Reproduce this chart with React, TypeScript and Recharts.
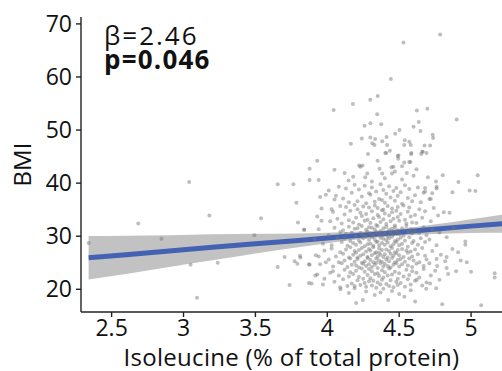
import React from 'react'
import { ComposedChart, Scatter, Line, Area, XAxis, YAxis } from 'recharts'

// regression fit (x = isoleucine %, fit = BMI) and 95% band
const fitX = [2.34, 2.6, 2.9, 3.2, 3.5, 3.8, 4.1, 4.4, 4.7, 5.0, 5.215]
const fitY = [25.95, 26.5, 27.2, 27.9, 28.6, 29.2, 29.9, 30.5, 31.2, 31.9, 32.35]
const bandLo = [21.85, 22.9, 24.2, 25.45, 26.75, 27.9, 29.05, 29.9, 30.35, 30.6, 30.65]
const bandHi = [30.05, 30.1, 30.2, 30.35, 30.45, 30.5, 30.75, 31.1, 32.05, 33.2, 34.05]

const xTicks = [2.5, 3, 3.5, 4, 4.5, 5]
const yTicks = [20, 30, 40, 50, 60, 70]

// main cluster, grouped by BMI band
const cluster20: [number, number][] = [
  [3.93,22.8],[3.97,20.9],[4.02,23.1],[4.05,21.4],[4.08,22.6],[4.09,20.4],
  [4.11,21.9],[4.12,23.7],[4.14,20.6],[4.15,22.4],[4.16,23.2],[4.17,21.1],[4.18,22.9],[4.19,20.2],
  [4.20,23.5],[4.21,21.7],[4.22,22.3],[4.23,20.8],[4.24,23.9],[4.25,22.0],[4.26,21.2],[4.26,23.3],[4.27,20.5],[4.28,22.7],[4.29,21.5],[4.29,23.8],
  [4.30,22.1],[4.31,20.7],[4.31,23.4],[4.32,21.6],[4.33,22.9],[4.34,20.3],[4.35,23.0],[4.35,21.3],[4.36,22.5],[4.37,20.9],[4.38,23.6],[4.38,21.8],[4.39,22.2],[4.39,20.1],
  [4.40,23.2],[4.41,21.0],[4.42,22.6],[4.43,20.6],[4.43,23.9],[4.44,21.7],[4.45,22.8],[4.46,20.4],[4.47,23.3],[4.48,21.4],[4.49,22.0],[4.49,20.8],
  [4.50,23.0],[4.51,21.2],[4.53,22.4],[4.54,20.5],[4.55,23.7],[4.56,21.9],[4.57,22.7],[4.58,20.9],[4.59,23.4],
  [4.61,21.6],[4.62,23.1],[4.64,22.2],[4.66,20.7],[4.67,23.8],[4.69,21.3],
  [4.72,22.6],[4.75,23.5],[4.78,21.8],[4.84,22.9],
]
const cluster24: [number, number][] = [
  [3.92,26.4],[3.95,24.7],[3.98,27.3],
  [4.01,25.6],[4.03,27.7],[4.04,24.3],[4.06,26.2],[4.08,25.1],[4.09,27.0],
  [4.10,24.9],[4.11,26.7],[4.12,25.4],[4.13,27.5],[4.14,24.2],[4.15,26.0],[4.16,25.8],[4.16,27.9],[4.17,24.6],[4.18,26.5],[4.19,25.2],[4.19,27.2],
  [4.20,24.5],[4.20,26.9],[4.21,25.7],[4.22,27.4],[4.22,24.1],[4.23,26.3],[4.24,25.0],[4.24,27.8],[4.25,24.8],[4.25,26.6],[4.26,25.3],[4.27,27.1],[4.27,24.4],[4.28,26.1],[4.28,25.9],[4.29,27.6],[4.29,24.7],[4.21,26.0],
  [4.30,25.5],[4.30,27.3],[4.31,24.2],[4.31,26.4],[4.32,25.1],[4.32,27.9],[4.33,24.6],[4.33,26.8],[4.34,25.8],[4.34,27.0],[4.35,24.0],[4.35,26.2],[4.36,25.4],[4.36,27.7],[4.37,24.9],[4.37,26.5],[4.38,25.2],[4.38,27.4],[4.39,24.3],[4.39,26.1],[4.34,25.0],[4.36,26.9],
  [4.40,24.8],[4.40,26.6],[4.41,25.6],[4.41,27.5],[4.42,24.4],[4.42,26.0],[4.43,25.3],[4.43,27.2],[4.44,24.1],[4.44,26.7],[4.45,25.9],[4.45,27.8],[4.46,24.6],[4.46,26.3],[4.47,25.1],[4.47,27.0],[4.48,24.9],[4.48,26.8],[4.49,25.5],[4.49,27.4],
  [4.50,24.3],[4.50,26.4],[4.51,25.7],[4.52,27.6],[4.52,24.7],[4.53,26.1],[4.54,25.2],[4.55,27.3],[4.56,24.5],[4.56,26.9],[4.57,25.8],[4.58,27.1],[4.59,24.2],[4.59,26.2],
  [4.60,25.4],[4.61,27.5],[4.62,24.8],[4.63,26.6],[4.64,25.1],[4.66,27.8],[4.67,24.4],[4.68,26.3],[4.69,25.6],
  [4.71,24.9],[4.73,27.2],[4.76,25.7],[4.79,26.5],[4.82,25.3],[4.87,27.6],
]
const cluster28: [number, number][] = [
  [3.91,29.4],[3.94,31.3],[3.97,28.6],
  [4.01,30.2],[4.03,28.3],[4.05,31.6],[4.07,29.7],[4.09,30.8],
  [4.10,28.9],[4.11,31.1],[4.12,29.5],[4.13,30.4],[4.14,28.2],[4.15,31.8],[4.16,29.1],[4.17,30.7],[4.18,28.7],[4.19,31.4],
  [4.20,30.0],[4.20,28.4],[4.21,31.5],[4.22,29.2],[4.23,30.6],[4.23,28.8],[4.24,31.9],[4.25,29.6],[4.25,30.3],[4.26,28.1],[4.27,31.2],[4.27,29.9],[4.28,30.9],[4.28,28.5],[4.29,31.7],[4.29,29.3],
  [4.30,28.6],[4.30,30.5],[4.31,29.8],[4.31,31.6],[4.32,28.2],[4.32,30.1],[4.33,29.4],[4.33,31.3],[4.34,28.9],[4.34,30.8],[4.35,29.0],[4.35,31.9],[4.36,28.3],[4.36,30.4],[4.37,29.7],[4.37,31.0],[4.38,28.7],[4.38,30.2],[4.39,29.5],[4.39,31.5],
  [4.40,28.4],[4.40,30.6],[4.41,29.3],[4.41,31.8],[4.42,28.8],[4.42,30.0],[4.43,29.6],[4.43,31.2],[4.44,28.1],[4.44,30.7],[4.45,29.9],[4.45,31.4],[4.46,28.5],[4.46,30.3],[4.47,29.1],[4.47,31.7],[4.48,28.9],[4.48,30.9],[4.49,29.4],[4.49,31.1],
  [4.50,28.3],[4.50,30.4],[4.51,29.7],[4.52,31.5],[4.52,28.6],[4.53,30.1],[4.54,29.2],[4.55,31.9],[4.56,28.0],[4.56,30.8],[4.57,29.8],[4.58,31.3],[4.59,28.7],[4.59,30.5],
  [4.60,29.1],[4.61,31.0],[4.63,28.4],[4.64,30.6],[4.65,29.6],[4.67,31.7],[4.68,28.9],[4.69,30.2],
  [4.71,29.4],[4.73,31.2],[4.76,28.3],[4.78,30.7],[4.83,29.8],[4.88,31.5],
]
const cluster32: [number, number][] = [
  [3.93,33.7],[3.96,35.2],[4.02,32.8],[4.04,34.6],[4.07,33.3],[4.09,35.7],
  [4.10,32.4],[4.12,34.1],[4.13,35.5],[4.15,33.0],[4.16,34.8],[4.18,32.6],[4.19,35.9],
  [4.20,33.5],[4.21,35.1],[4.22,32.2],[4.23,34.4],[4.24,33.8],[4.25,35.6],[4.26,32.9],[4.27,34.2],[4.28,33.1],[4.29,35.4],
  [4.30,32.5],[4.31,34.7],[4.32,33.4],[4.33,35.8],[4.34,32.1],[4.35,34.0],[4.35,35.3],[4.36,33.6],[4.37,32.7],[4.38,34.9],[4.39,33.2],[4.39,35.0],
  [4.40,34.3],[4.41,32.3],[4.42,35.7],[4.43,33.9],[4.44,32.8],[4.45,34.5],[4.45,35.2],[4.46,33.3],[4.47,32.0],[4.48,34.8],[4.49,33.6],[4.49,35.5],
  [4.50,32.9],[4.51,34.2],[4.53,35.8],[4.54,33.1],[4.55,32.4],[4.56,34.6],[4.57,35.4],[4.58,33.7],[4.59,32.6],
  [4.61,34.0],[4.62,32.5],[4.64,35.1],[4.66,33.5],[4.68,34.7],
  [4.72,32.8],[4.74,35.3],[4.77,33.9],[4.85,34.4],
]
const cluster36: [number, number][] = [
  [3.95,37.4],[4.01,38.6],[4.05,36.9],[4.08,39.3],
  [4.11,37.1],[4.13,39.0],[4.15,36.4],[4.17,38.2],[4.19,39.7],
  [4.21,36.6],[4.22,38.8],[4.24,37.5],[4.26,39.5],[4.27,36.2],[4.29,38.1],
  [4.30,37.8],[4.31,39.2],[4.33,36.5],[4.34,38.4],[4.36,37.0],[4.37,39.8],[4.38,36.8],[4.39,38.7],
  [4.40,36.3],[4.41,38.0],[4.43,39.4],[4.44,37.3],[4.46,38.5],[4.47,36.7],[4.48,39.1],[4.49,37.6],
  [4.51,38.3],[4.52,36.1],[4.54,39.6],[4.56,37.2],[4.57,38.9],[4.59,36.6],
  [4.61,37.7],[4.63,39.2],[4.65,36.4],[4.68,38.4],[4.72,37.0],[4.76,39.0],
]
// upper tail
const upperPoints: [number, number][] = [
  [4.785,68.0],[4.53,66.5],[4.442,59.6],[4.044,53.8],[4.178,54.9],[4.299,55.7],[4.351,56.4],[4.347,53.0],
  [4.623,53.7],[4.696,54.0],[4.9,52.0],[4.259,50.8],[4.3,51.3],[4.375,51.1],[4.472,49.3],[4.502,50.0],
  [4.6,50.6],[4.636,51.5],[4.648,49.8],[4.733,49.1],[4.736,48.5],[4.164,47.4],[4.24,48.4],[4.299,48.6],
  [4.333,48.3],[4.313,47.5],[4.328,47.2],[4.382,47.9],[4.412,48.7],[4.416,47.2],[4.403,45.7],[4.435,46.1],
  [4.539,48.1],[4.571,47.8],[4.58,47.2],[4.535,47.2],[4.676,47.1],[4.715,47.1],[4.283,45.5],[4.495,45.2],
  [4.493,44.6],[4.585,45.7],[4.653,45.5],[4.664,45.9],[4.69,45.7],[3.93,44.2],[3.877,42.7],[4.05,42.5],
  [3.94,40.6],[3.877,40.6],[4.446,43.0],[4.535,43.9],[4.578,44.0],[4.52,43.2],[4.45,41.8],[4.553,41.9],
  [4.7,41.1],[4.803,41.5],[5.046,41.5],[4.912,40.2],[4.222,43.3],[4.245,43.3],[4.278,41.8],[4.363,42.7],
  [4.382,41.8],[4.148,40.5],[4.264,41.1],[4.18,41.2],[4.41,45.7],[4.583,45.5],[4.23,43.1],[4.46,43.1],
  [4.57,44.0],[4.756,40.3],[4.76,39.3],[4.68,39.1],[4.67,38.2],[4.73,38.1],[4.71,37.0],[4.87,38.3],
  [4.99,38.6],[5.03,38.5],[4.81,34.5],[4.03,35.1],[3.96,32.9],[3.84,31.2],[4.06,37.6],[3.99,37.8],
  [4.49,45.1],[4.66,45.9],[4.35,44.2],[4.62,42.6],[4.40,40.9],[4.31,40.3],[4.52,40.7],[4.60,41.4],
  [4.12,41.9],[4.47,42.2],
]
// scattered low / left / right points
const outerPoints: [number, number][] = [
  [2.34,28.7],[2.685,32.4],[2.847,29.5],[3.049,24.6],[3.18,33.9],[3.238,25.0],[3.094,18.4],[3.039,40.2],
  [3.539,33.4],[3.493,30.2],[3.655,39.8],[3.764,39.8],[3.785,36.3],[3.796,32.6],[3.838,31.2],[3.703,26.1],
  [3.655,24.2],[3.738,20.8],[3.773,25.3],[3.792,24.8],[3.813,26.0],[3.872,24.7],[3.872,21.2],[4.201,17.4],
  [4.247,18.0],[4.424,18.0],[4.611,17.7],[4.799,17.2],[5.07,17.0],[5.164,23.0],[5.164,22.2],[3.891,21.1],
  [3.877,24.6],[3.917,22.6],[4.092,20.0],[4.19,20.6],[4.33,18.9],[4.50,19.1],[4.536,18.6],[4.757,20.2],
  [4.688,20.1],[4.896,23.4],[4.97,25.1],[4.928,25.4],[4.96,29.0],[4.96,28.4],[4.91,27.0],[4.83,26.1],
  [4.83,24.0],[4.764,24.4],[4.715,21.1],[4.622,21.8],[3.98,22.0],[4.04,23.4],[3.99,25.1],[3.94,26.2],
  [3.81,26.3],[4.37,19.4],[4.27,19.6],[4.58,19.8],[4.15,19.3],[4.45,19.7],[5.0,23.3],
]

const fitRows = fitX.map((x, i) => ({ x, fit: fitY[i], band: [bandLo[i], bandHi[i]] }))
const scatterRows = [...cluster20, ...cluster24, ...cluster28, ...cluster32, ...cluster36, ...upperPoints, ...outerPoints]
  .map(([x, y]) => ({ x, y }))

const font = '"Open Sans", sans-serif'
const tickStyle = { fontSize: 23, fill: '#111', fontFamily: font }

function Dot(props: { cx?: number; cy?: number }) {
  return <circle cx={props.cx} cy={props.cy} r={2} fill="#777" fillOpacity={0.48} />
}

export default function App() {
  return (
    <div style={{ position: 'absolute', left: 0, top: 0, width: 502, height: 371, background: '#fff' }}>
      <ComposedChart width={502} height={371} data={fitRows} margin={{ top: 17, right: 0, bottom: 0, left: 0 }}>
        <XAxis
          dataKey="x"
          type="number"
          domain={[2.287, 5.215]}
          allowDataOverflow
          ticks={xTicks}
          tick={tickStyle}
          tickSize={5}
          tickMargin={3}
          height={59}
          stroke="#222"
          strokeWidth={1.4}
          label={{ value: 'Isoleucine (% of total protein)', position: 'insideBottom', offset: 5, style: { fontSize: 24, letterSpacing: 0.3, fill: '#111', fontFamily: font } }}
        />
        <YAxis
          type="number"
          domain={[15.72, 71.3]}
          allowDataOverflow
          ticks={yTicks}
          tick={tickStyle}
          tickSize={5}
          tickMargin={4}
          width={81}
          stroke="#222"
          strokeWidth={1.4}
          label={{ value: 'BMI', angle: -90, position: 'insideLeft', offset: 22, style: { fontSize: 24, fill: '#111', fontFamily: font, textAnchor: 'middle' } }}
        />
        <Scatter data={scatterRows} dataKey="y" shape={<Dot />} isAnimationActive={false} />
        <Area dataKey="band" type="monotone" stroke="none" fill="#999999" fillOpacity={0.6} isAnimationActive={false} />
        <Line dataKey="fit" type="linear" stroke="#4462b4" strokeWidth={5} dot={false} isAnimationActive={false} />
      </ComposedChart>
      <div style={{ position: 'absolute', left: 104, top: 22, fontFamily: font, fontSize: 26, letterSpacing: 2, lineHeight: '26px', color: '#111' }}>
        β=2.46
      </div>
      <div style={{ position: 'absolute', left: 104, top: 48, fontFamily: font, fontSize: 26, letterSpacing: 1.2, lineHeight: '22px', fontWeight: 700, color: '#111' }}>
        p=0.046
      </div>
    </div>
  )
}
